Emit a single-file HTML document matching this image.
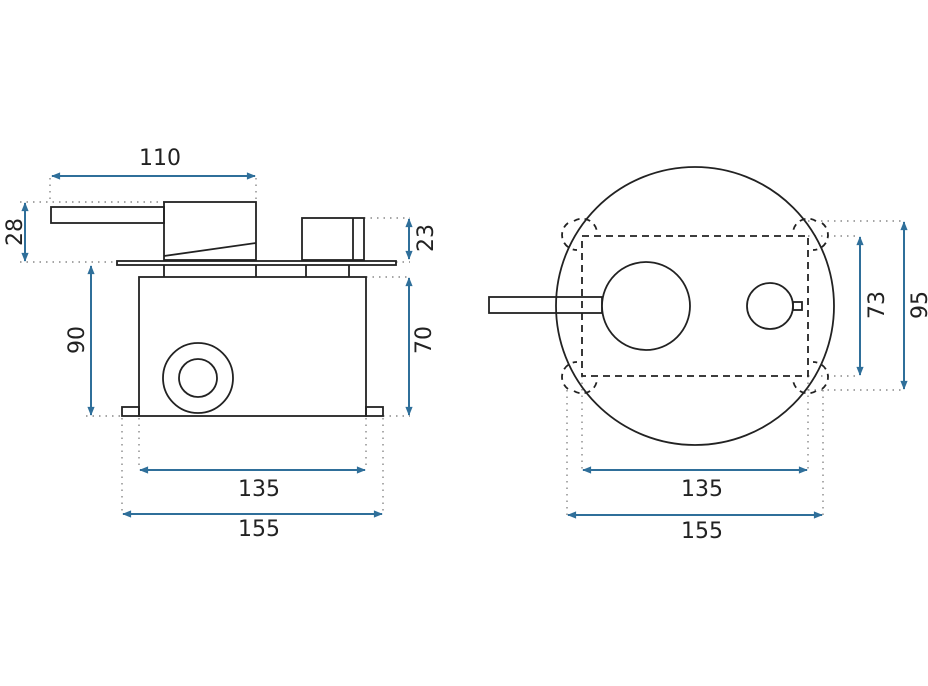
<!DOCTYPE html>
<html><head><meta charset="utf-8"><style>
html,body{margin:0;padding:0;background:#fff}
svg{display:block}
text{font-family:"DejaVu Sans","Liberation Sans",sans-serif;font-size:22px;fill:#222}
</style></head><body>
<svg width="928" height="686" viewBox="0 0 928 686">
<defs>
<marker id="a" viewBox="0 0 10 10" refX="9" refY="5" markerWidth="11" markerHeight="9" orient="auto-start-reverse" markerUnits="userSpaceOnUse"><path d="M0,1 L10,5 L0,9 Z" fill="#2f6f9a"/></marker>
</defs>
<g stroke="#888" stroke-width="1.4" stroke-dasharray="1.5,5" fill="none">
<path d="M50,178 V202 M256,178 V202"/>
<path d="M20,202 H164 M20,262 H117"/>
<path d="M364,218 H410 M396,262 H410"/>
<path d="M86,416 H122 M383,416 H410 M366,277 H410"/>
<path d="M122,418 V514 M139,418 V470 M366,418 V470 M383,418 V514"/>
<path d="M808,221 H904 M808,236 H860 M808,376 H860 M808,390 H904"/>
<path d="M567,390 V515 M582,376 V470 M808,376 V470 M823,390 V515"/>
</g>
<g stroke="#2f6f9a" stroke-width="2" fill="none">
<line x1="52" y1="176" x2="255" y2="176" marker-start="url(#a)" marker-end="url(#a)"/>
<line x1="25" y1="203" x2="25" y2="261" marker-start="url(#a)" marker-end="url(#a)"/>
<line x1="91" y1="266" x2="91" y2="415" marker-start="url(#a)" marker-end="url(#a)"/>
<line x1="409" y1="219" x2="409" y2="259" marker-start="url(#a)" marker-end="url(#a)"/>
<line x1="409" y1="278" x2="409" y2="415" marker-start="url(#a)" marker-end="url(#a)"/>
<line x1="140" y1="470" x2="365" y2="470" marker-start="url(#a)" marker-end="url(#a)"/>
<line x1="123" y1="514" x2="382" y2="514" marker-start="url(#a)" marker-end="url(#a)"/>
<line x1="860" y1="237" x2="860" y2="375" marker-start="url(#a)" marker-end="url(#a)"/>
<line x1="904" y1="222" x2="904" y2="389" marker-start="url(#a)" marker-end="url(#a)"/>
<line x1="583" y1="470" x2="807" y2="470" marker-start="url(#a)" marker-end="url(#a)"/>
<line x1="568" y1="515" x2="822" y2="515" marker-start="url(#a)" marker-end="url(#a)"/>
</g>
<g stroke="#222" stroke-width="1.8" fill="none">
<rect x="51" y="207" width="113" height="16"/>
<rect x="164" y="202" width="92" height="58"/>
<line x1="164" y1="256" x2="256" y2="243"/>
<rect x="117" y="261" width="279" height="4"/>
<rect x="302" y="218" width="62" height="42"/>
<line x1="353" y1="218" x2="353" y2="260"/>
<path d="M164,265 V277 M256,265 V277 M306,265 V277 M349,265 V277"/>
<rect x="139" y="277" width="227" height="139"/>
<rect x="122" y="407" width="17" height="9"/>
<rect x="366" y="407" width="17" height="9"/>
<circle cx="198" cy="378" r="35"/>
<circle cx="198" cy="378" r="19"/>
<circle cx="695" cy="306" r="139"/>
<rect x="489" y="297" width="113" height="16"/>
<circle cx="646" cy="306" r="44" fill="#fff"/>
<circle cx="770" cy="306" r="23"/>
<rect x="793" y="302" width="9" height="8"/>
<rect x="582" y="236" width="226" height="140" stroke-dasharray="7,5"/>
<g stroke-dasharray="6,5">
<path d="M568,223 A15,15 0 0 0 577,250 M574,221 A15,15 0 0 1 597,232"/>
<path d="M822,223 A15,15 0 0 1 813,250 M816,221 A15,15 0 0 0 793,232"/>
<path d="M568,389 A15,15 0 0 1 577,362 M574,391 A15,15 0 0 0 597,380"/>
<path d="M822,389 A15,15 0 0 0 813,362 M816,391 A15,15 0 0 1 793,380"/>
</g>
</g>
<text x="160" y="165" text-anchor="middle">110</text>
<text x="259" y="496" text-anchor="middle">135</text>
<text x="259" y="536" text-anchor="middle">155</text>
<text x="702" y="496" text-anchor="middle">135</text>
<text x="702" y="538" text-anchor="middle">155</text>
<text transform="translate(22,232) rotate(-90)" text-anchor="middle">28</text>
<text transform="translate(84,340) rotate(-90)" text-anchor="middle">90</text>
<text transform="translate(433,238) rotate(-90)" text-anchor="middle">23</text>
<text transform="translate(431,340) rotate(-90)" text-anchor="middle">70</text>
<text transform="translate(884,305) rotate(-90)" text-anchor="middle">73</text>
<text transform="translate(927,305) rotate(-90)" text-anchor="middle">95</text>
</svg>
</body></html>
